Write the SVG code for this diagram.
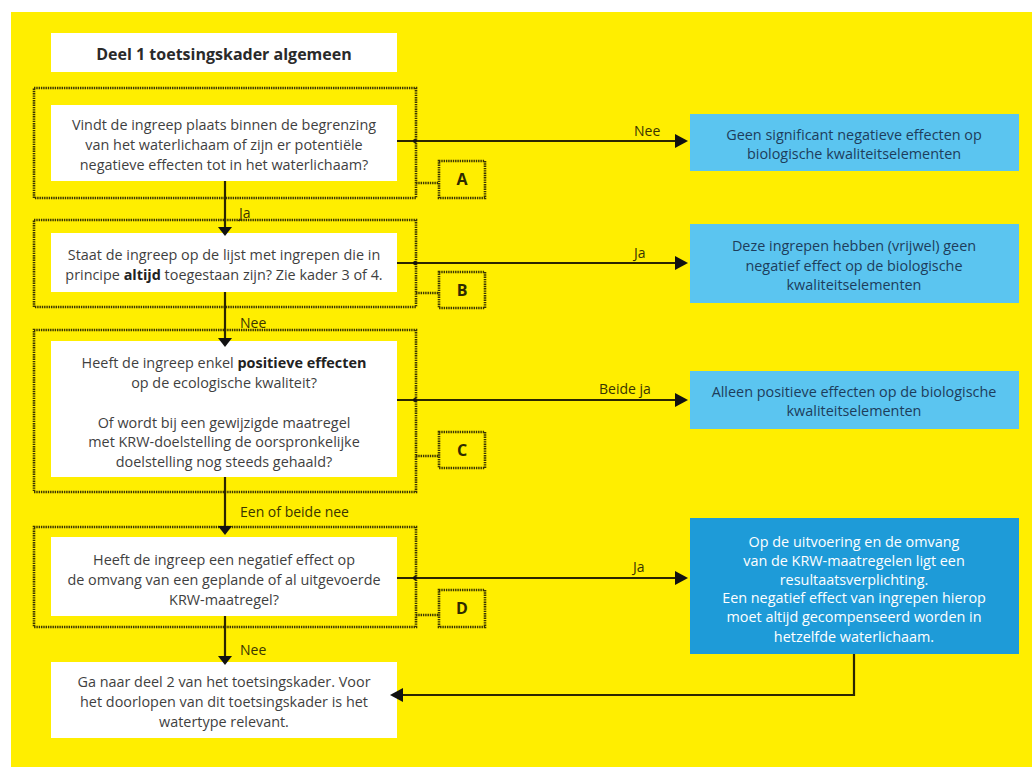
<svg xmlns="http://www.w3.org/2000/svg" width="1032" height="767" viewBox="0 0 1032 767">
<style>
.bg{fill:#ffffff}
.yel{fill:#ffee00}
.wbox{fill:#ffffff}
.frame{fill:none;stroke:#3b3500;stroke-width:2.6;stroke-dasharray:1.4 0.9}
.lbl{fill:none;stroke:#3b3500;stroke-width:2.6;stroke-dasharray:1.4 0.9}
.lb{fill:#5bc5f0}
.db{fill:#1e9bd8}
.t{font-family:"Open Sans","Liberation Sans",sans-serif;font-size:14.4px;fill:#3f3f3f;text-anchor:middle}
.tb{font-weight:bold;fill:#222}
.title{font-family:"Open Sans","Liberation Sans",sans-serif;font-size:16px;font-weight:bold;fill:#2a2a2a;text-anchor:middle}
.bt{font-family:"Open Sans","Liberation Sans",sans-serif;font-size:14.4px;fill:#1d3d5c;text-anchor:middle}
.wt{font-family:"Open Sans","Liberation Sans",sans-serif;font-size:14.4px;fill:#ffffff;text-anchor:middle}
.cl{font-family:"Open Sans","Liberation Sans",sans-serif;font-size:14px;fill:#3a3500}
.letter{font-family:"Open Sans","Liberation Sans",sans-serif;font-size:16px;font-weight:bold;fill:#2e2a00;text-anchor:middle}
.line{fill:none;stroke:#2b2600;stroke-width:2.2}
.conn{fill:none;stroke:#3b3500;stroke-width:2.6;stroke-dasharray:1.4 0.9}
.ah{fill:#111}
</style>
<rect class="bg" x="0" y="0" width="1032" height="767"/>
<rect class="yel" x="11" y="12" width="1021" height="755"/>

<g id="title">
<rect class="wbox" x="51" y="33" width="346" height="39"/>
<text class="title" x="224" y="60">Deel 1 toetsingskader algemeen</text>
</g>

<g id="nodeA">
<rect class="frame" x="34" y="88" width="382" height="110"/>
<rect class="wbox" x="51" y="105" width="346" height="76"/>
<text class="t" x="224" y="130">Vindt de ingreep plaats binnen de begrenzing</text>
<text class="t" x="224" y="150">van het waterlichaam of zijn er potentiële</text>
<text class="t" x="224" y="170">negatieve effecten tot in het waterlichaam?</text>
</g>
<g id="labelA">
<rect class="lbl" x="439" y="161" width="46" height="37"/>
<text class="letter" x="462" y="185">A</text>
</g>

<g id="nodeB">
<rect class="frame" x="34" y="220" width="382" height="87"/>
<rect class="wbox" x="51" y="233" width="346" height="59"/>
<text class="t" x="224" y="260">Staat de ingreep op de lijst met ingrepen die in</text>
<text class="t" x="224" y="280">principe <tspan class="tb">altijd</tspan> toegestaan zijn? Zie kader 3 of 4.</text>
</g>
<g id="labelB">
<rect class="lbl" x="439" y="272" width="46" height="36"/>
<text class="letter" x="462" y="296">B</text>
</g>

<g id="nodeC">
<rect class="frame" x="34" y="330" width="382" height="162"/>
<rect class="wbox" x="51" y="341" width="346" height="136"/>
<text class="t" x="224" y="368">Heeft de ingreep enkel <tspan class="tb">positieve effecten</tspan></text>
<text class="t" x="224" y="388">op de ecologische kwaliteit?</text>
<text class="t" x="224" y="428">Of wordt bij een gewijzigde maatregel</text>
<text class="t" x="224" y="447">met KRW-doelstelling de oorspronkelijke</text>
<text class="t" x="224" y="467">doelstelling nog steeds gehaald?</text>
</g>
<g id="labelC">
<rect class="lbl" x="439" y="432" width="46" height="36"/>
<text class="letter" x="462" y="456">C</text>
</g>

<g id="nodeD">
<rect class="frame" x="34" y="527" width="382" height="100"/>
<rect class="wbox" x="51" y="537" width="346" height="79"/>
<text class="t" x="224" y="565">Heeft de ingreep een negatief effect op</text>
<text class="t" x="224" y="585">de omvang van een geplande of al uitgevoerde</text>
<text class="t" x="224" y="605">KRW-maatregel?</text>
</g>
<g id="labelD">
<rect class="lbl" x="439" y="590" width="46" height="37"/>
<text class="letter" x="462" y="614">D</text>
</g>

<g id="nodeFinal">
<rect class="wbox" x="51" y="662" width="346" height="76"/>
<text class="t" x="224" y="687">Ga naar deel 2 van het toetsingskader. Voor</text>
<text class="t" x="224" y="707">het doorlopen van dit toetsingskader is het</text>
<text class="t" x="224" y="727">watertype relevant.</text>
</g>

<g id="result1">
<rect class="lb" x="690" y="114" width="329" height="57"/>
<text class="bt" x="854" y="140">Geen significant negatieve effecten op</text>
<text class="bt" x="854" y="159">biologische kwaliteitselementen</text>
</g>
<g id="result2">
<rect class="lb" x="690" y="224" width="329" height="79"/>
<text class="bt" x="854" y="251">Deze ingrepen hebben (vrijwel) geen</text>
<text class="bt" x="854" y="271">negatief effect op de biologische</text>
<text class="bt" x="854" y="290">kwaliteitselementen</text>
</g>
<g id="result3">
<rect class="lb" x="690" y="371" width="329" height="58"/>
<text class="bt" x="854" y="397">Alleen positieve effecten op de biologische</text>
<text class="bt" x="854" y="416">kwaliteitselementen</text>
</g>
<g id="result4">
<rect class="db" x="690" y="518" width="329" height="136"/>
<text class="wt" x="854" y="547">Op de uitvoering en de omvang</text>
<text class="wt" x="854" y="566">van de KRW-maatregelen ligt een</text>
<text class="wt" x="854" y="585">resultaatsverplichting.</text>
<text class="wt" x="854" y="603">Een negatief effect van ingrepen hierop</text>
<text class="wt" x="854" y="622">moet altijd gecompenseerd worden in</text>
<text class="wt" x="854" y="642">hetzelfde waterlichaam.</text>
</g>

<g id="connectors">
<line class="conn" x1="416" y1="183" x2="439" y2="183"/>
<line class="conn" x1="416" y1="293" x2="439" y2="293"/>
<line class="conn" x1="416" y1="456" x2="439" y2="456"/>
<line class="conn" x1="416" y1="615" x2="439" y2="615"/>
<line class="line" x1="225" y1="181" x2="225" y2="228"/>
<polygon class="ah" points="218,227 232,227 225,236"/>
<line class="line" x1="225" y1="292" x2="225" y2="339"/>
<polygon class="ah" points="218,338 232,338 225,347"/>
<line class="line" x1="225" y1="477" x2="225" y2="527"/>
<polygon class="ah" points="218,526 232,526 225,535"/>
<line class="line" x1="225" y1="616" x2="225" y2="657"/>
<polygon class="ah" points="218,656 232,656 225,665"/>
<line class="line" x1="397" y1="141" x2="677" y2="141"/>
<polygon class="ah" points="675,134 675,148 688,141"/>
<line class="line" x1="397" y1="263" x2="677" y2="263"/>
<polygon class="ah" points="675,256 675,270 688,263"/>
<line class="line" x1="397" y1="400" x2="677" y2="400"/>
<polygon class="ah" points="675,393 675,407 688,400"/>
<line class="line" x1="397" y1="578" x2="677" y2="578"/>
<polygon class="ah" points="675,571 675,585 688,578"/>
<circle class="ah" cx="415" cy="141" r="2"/>
<circle class="ah" cx="415" cy="263" r="2"/>
<circle class="ah" cx="415" cy="400" r="2"/>
<circle class="ah" cx="415" cy="578" r="2"/>
<polyline class="line" points="854,654 854,695 401,695"/>
<polygon class="ah" points="403,688 403,702 390,695"/>
<text class="cl" x="239" y="218">Ja</text>
<text class="cl" x="240" y="328">Nee</text>
<text class="cl" x="240" y="517">Een of beide nee</text>
<text class="cl" x="240" y="655">Nee</text>
<text class="cl" x="634" y="136">Nee</text>
<text class="cl" x="634" y="258">Ja</text>
<text class="cl" x="599" y="394">Beide ja</text>
<text class="cl" x="633" y="572">Ja</text>
</g>
</svg>
